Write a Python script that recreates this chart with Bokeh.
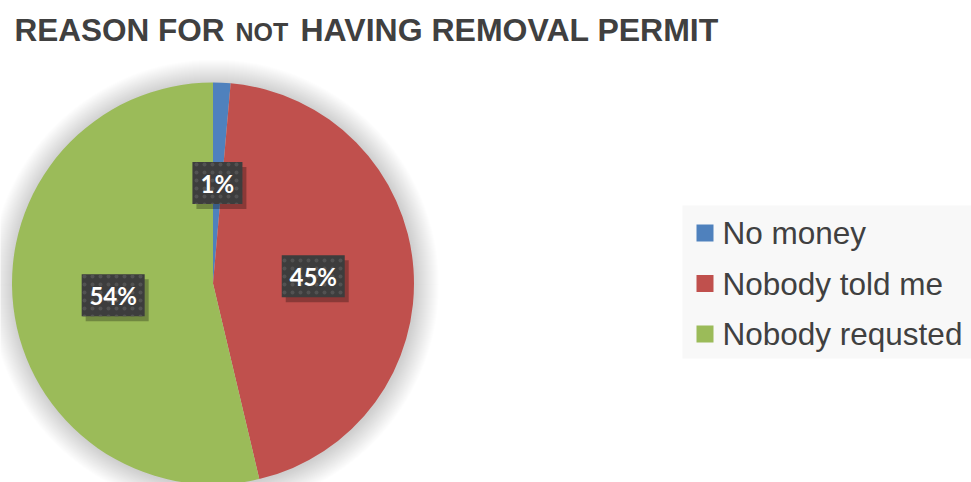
import math
from bokeh.plotting import figure
from bokeh.models import Range1d, ColumnDataSource
from bokeh.core.properties import value
from bokeh.embed import file_html
from bokeh.resources import INLINE

# ---- data ----
categories = ["No money", "Nobody told me", "Nobody requsted"]
shares = [1.4, 44.9, 53.7]
colors = ["#4F81BD", "#C0504D", "#9BBB59"]
title_parts = ["REASON FOR", "NOT", "HAVING REMOVAL PERMIT"]

W, H = 971, 482


def X(px):
    return px


def Y(py):
    return H - py


p = figure(width=W, height=H, output_backend="svg", toolbar_location=None,
           x_range=Range1d(0, W), y_range=Range1d(0, H),
           x_axis_location=None, y_axis_location=None, min_border=0)
p.grid.visible = False
p.outline_line_color = None
p.background_fill_color = "white"
p.border_fill_color = "white"

# ---- pie geometry ----
cx, cy, R = X(212.5), Y(283), 201

# soft shadow halo
for k in range(24, 0, -1):
    p.circle(x=[cx + 1], y=[cy - 1], radius=R + k, fill_color="black",
             fill_alpha=0.007, line_color=None)

total = sum(shares)
starts, ends, mids = [], [], []
cum = 0.0
for s in shares:
    a0 = math.pi / 2 - 2 * math.pi * cum / total
    cum += s
    a1 = math.pi / 2 - 2 * math.pi * cum / total
    starts.append(a0)
    ends.append(a1)
    mids.append((a0 + a1) / 2)

src = ColumnDataSource(dict(cat=categories, share=shares, color=colors,
                            start=starts, end=ends))
p.wedge(x=cx, y=cy, radius=R, start_angle="start", end_angle="end",
        direction="clock", fill_color="color", line_color=None, source=src)

# ---- data labels ----
labels = [f"{round(s / total * 100)}%" for s in shares]
lx = [cx + 0.5 * R * math.cos(m) for m in mids]
ly = [cy + 0.5 * R * math.sin(m) for m in mids]
bw = [24 + 13 * len(t) for t in labels]
lab = ColumnDataSource(dict(x=lx, y=ly, sx=[v + 4 for v in lx], sy=[v - 5 for v in ly],
                            w=bw, text=labels))
p.rect(x="sx", y="sy", width="w", height=42, fill_color="black", fill_alpha=0.28,
       line_color=None, source=lab)
p.rect(x="x", y="y", width="w", height=42, fill_color="#3d3d3d", line_color=None,
       hatch_pattern="dot", hatch_color="#525252", hatch_scale=8, hatch_weight=1.5,
       source=lab)
p.text(x="x", y="y", text="text", text_align="center", text_baseline="middle",
       text_color="white", text_font=value("Lato"), text_font_style="bold",
       text_font_size="24px", source=lab)

# ---- title ----
p.text(x=[X(14)], y=[Y(29.5)], text=[title_parts[0]], text_font=value("Liberation Sans"),
       text_font_style="bold", text_font_size="31.5px", text_color="#404040",
       text_baseline="middle")
p.text(x=[X(235)], y=[Y(31.7)], text=[title_parts[1]], text_font=value("Liberation Sans"),
       text_font_style="bold", text_font_size="25px", text_color="#404040",
       text_baseline="middle")
p.text(x=[X(300)], y=[Y(29.5)], text=[title_parts[2]], text_font=value("Liberation Sans"),
       text_font_style="bold", text_font_size="32px", text_color="#404040",
       text_baseline="middle")

# ---- legend ----
p.quad(left=X(682), right=W + 5, top=Y(205), bottom=Y(358),
       fill_color="#f8f8f8", line_color=None)
n = len(categories)
leg = ColumnDataSource(dict(
    sx=[X(704.5)] * n,
    sy=[Y(232.5 + 50.5 * i) for i in range(n)],
    tx=[X(722)] * n,
    ty=[Y(232.5 + 50.5 * i) for i in range(n)],
    color=colors, text=categories))
p.rect(x="sx", y="sy", width=17, height=17, fill_color="color", line_color=None, source=leg)
p.text(x="tx", y="ty", text="text", text_font=value("Liberation Sans"),
       text_font_size="31.5px", text_color="#404040", text_baseline="middle", source=leg)

open("out.html", "w").write(file_html(p, INLINE))
